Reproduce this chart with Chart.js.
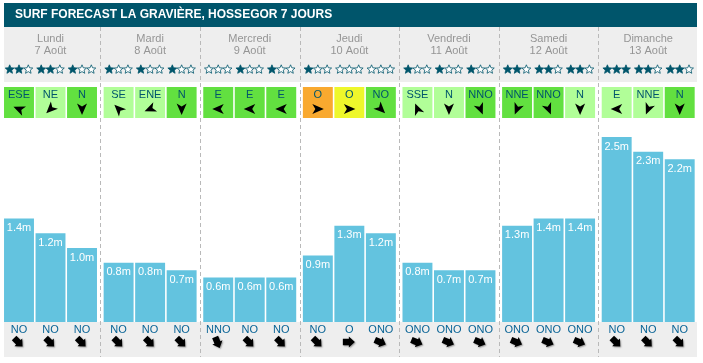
<!DOCTYPE html>
<html>
<head>
<meta charset="utf-8">
<title>Surf forecast</title>
<script src="https://cdn.jsdelivr.net/npm/chart.js@4"></script>
<style>
    html, body { margin: 0; padding: 0; background: #fff; }
    canvas { display: block; }
</style>
</head>
<body>
<canvas id="surfChart" width="703" height="363"></canvas>
<script>
// Data
const title = 'SURF FORECAST LA GRAVIÈRE, HOSSEGOR 7 JOURS';
const days = ['Lundi', 'Mardi', 'Mercredi', 'Jeudi', 'Vendredi', 'Samedi', 'Dimanche'];
const dates = ['7 Août', '8 Août', '9 Août', '10 Août', '11 Août', '12 Août', '13 Août'];

// one column per time of day, one row per day
const waveMorning = [1.4, 0.8, 0.6, 0.9, 0.8, 1.3, 2.5];
const waveNoon = [1.2, 0.8, 0.6, 1.3, 0.7, 1.4, 2.3];
const waveEvening = [1.0, 0.7, 0.6, 1.2, 0.7, 1.4, 2.2];

const stars = [[2, 2, 1], [1, 1, 1], [0, 1, 1], [1, 0, 0], [1, 1, 1], [2, 2, 2], [3, 2, 2]];

const windDirs = [
    ['ESE', 'NE', 'N'], ['SE', 'ENE', 'N'], ['E', 'E', 'E'], ['O', 'O', 'NO'],
    ['SSE', 'N', 'NNO'], ['NNE', 'NNO', 'N'], ['E', 'NNE', 'N']
];
const windKinds = [
    ['offshore', 'light', 'offshore'], ['light', 'light', 'offshore'], ['offshore', 'offshore', 'offshore'],
    ['onshoreStrong', 'onshore', 'offshore'], ['light', 'light', 'offshore'],
    ['offshore', 'offshore', 'light'], ['light', 'light', 'offshore']
];
const swellDirs = [
    ['NO', 'NO', 'NO'], ['NO', 'NO', 'NO'], ['NNO', 'NO', 'NO'], ['NO', 'O', 'ONO'],
    ['ONO', 'ONO', 'ONO'], ['ONO', 'ONO', 'ONO'], ['NO', 'NO', 'NO']
];

// Styles
const TEAL = '#00556b';
const GREY_BG = '#eeeeee';
const BAR_BLUE = '#63c3df';
const FONT = '"Liberation Sans", Arial, sans-serif';
const windColors = { offshore: '#62e040', light: '#b1fe98', onshore: '#eef72b', onshoreStrong: '#f9a92f' };
const compass = ['N', 'NNE', 'NE', 'ENE', 'E', 'ESE', 'SE', 'SSE', 'S', 'SSO', 'SO', 'OSO', 'O', 'ONO', 'NO', 'NNO'];

// Direction the arrow tip points to: the wind comes from the named side
function arrowAngle(dir) {
    return (compass.indexOf(dir) * 22.5 + 180) * Math.PI / 180;
}

function drawPolygon(ctx, x, y, angle, points, color, blur) {
    ctx.save();
    ctx.translate(x, y);
    ctx.rotate(angle);
    ctx.fillStyle = color;
    if (blur) {
        ctx.shadowColor = 'rgba(0, 0, 0, 0.35)';
        ctx.shadowBlur = blur;
        ctx.shadowOffsetX = 1;
        ctx.shadowOffsetY = 1;
    }
    ctx.beginPath();
    points.forEach((p, i) => (i === 0 ? ctx.moveTo(p[0], p[1]) : ctx.lineTo(p[0], p[1])));
    ctx.closePath();
    ctx.fill();
    ctx.restore();
}

const NAV_ARROW = [[0, -6], [5, 5.5], [0, 2.5], [-5, 5.5]];
const BLOCK_ARROW = [[0, -6.5], [5.5, -0.5], [3.2, -0.5], [3.2, 5.5], [-3.2, 5.5], [-3.2, -0.5], [-5.5, -0.5]];

function drawStar(ctx, cx, cy, r, filled) {
    ctx.beginPath();
    for (let i = 0; i < 10; i++) {
        const rad = i % 2 === 0 ? r : r * 0.45;
        const a = -Math.PI / 2 + i * Math.PI / 5;
        const px = cx + rad * Math.cos(a);
        const py = cy + rad * Math.sin(a);
        if (i === 0) ctx.moveTo(px, py); else ctx.lineTo(px, py);
    }
    ctx.closePath();
    ctx.fillStyle = filled ? TEAL : '#ffffff';
    ctx.fill();
    ctx.lineWidth = 0.8;
    ctx.strokeStyle = TEAL;
    ctx.stroke();
}

function text(ctx, str, x, y, font, color, align) {
    ctx.font = font;
    ctx.fillStyle = color;
    ctx.textAlign = align || 'center';
    ctx.textBaseline = 'middle';
    ctx.fillText(str, x, y);
}

// Panels behind the bars: title, header, footer, day separators
const backgroundPlugin = {
    id: 'surfBackground',
    beforeDatasetsDraw(chart) {
        const ctx = chart.ctx;
        const xScale = chart.scales.x;
        const left = 4, right = 697;

        ctx.save();
        ctx.fillStyle = TEAL;
        ctx.fillRect(left, 3, right - left, 24);
        ctx.fillStyle = GREY_BG;
        ctx.fillRect(left, 27, right - left, 55);
        ctx.fillRect(left, 322, right - left, 35);
        text(ctx, title, 15, 15, 'bold 12px ' + FONT, '#ffffff', 'left');

        // day separators
        ctx.strokeStyle = '#b9b9b9';
        ctx.lineWidth = 1;
        ctx.setLineDash([4, 3]);
        days.forEach((d, i) => {
            if (i === 0) return;
            const x = Math.round((xScale.getPixelForValue(i - 1) + xScale.getPixelForValue(i)) / 2) + 0.5;
            ctx.beginPath();
            ctx.moveTo(x, 27);
            ctx.lineTo(x, 357);
            ctx.stroke();
        });
        ctx.setLineDash([]);

        days.forEach((d, i) => {
            const x = xScale.getPixelForValue(i);
            text(ctx, d, x, 38.5, '11px ' + FONT, '#959595');
            text(ctx, dates[i], x, 50.5, '11px ' + FONT, '#959595');
        });
        ctx.restore();
    },
    // Everything tied to a single bar
    afterDatasetsDraw(chart) {
        const ctx = chart.ctx;
        ctx.save();
        chart.data.datasets.forEach((ds, slot) => {
            const meta = chart.getDatasetMeta(slot);
            meta.data.forEach((bar, i) => {
                const barLeft = bar.x - bar.width / 2;

                // rating stars
                for (let s = 0; s < 3; s++) {
                    drawStar(ctx, bar.x - 9.3 + s * 9.3, 69.5, 4.7, s < stars[i][slot]);
                }

                // wind cell
                ctx.fillStyle = windColors[windKinds[i][slot]];
                ctx.fillRect(barLeft, 87, bar.width, 31);
                text(ctx, windDirs[i][slot], bar.x, 95, '11px ' + FONT, TEAL);
                drawPolygon(ctx, bar.x, 109, arrowAngle(windDirs[i][slot]), NAV_ARROW, '#000000');

                // height label inside the bar
                text(ctx, ds.data[i].toFixed(1) + 'm', bar.x, bar.y + 9.5, '11px ' + FONT, '#ffffff');

                // swell direction under the bar
                text(ctx, swellDirs[i][slot], bar.x, 330, '11px ' + FONT, '#0a6496');
                drawPolygon(ctx, bar.x - 1, 342, arrowAngle(swellDirs[i][slot]), BLOCK_ARROW, '#000000', 1.5);
            });
        });
        ctx.restore();
    }
};

new Chart(document.getElementById('surfChart'), {
    type: 'bar',
    data: {
        labels: days,
        datasets: [
            { label: 'Matin', data: waveMorning, backgroundColor: BAR_BLUE },
            { label: 'Midi', data: waveNoon, backgroundColor: BAR_BLUE },
            { label: 'Soir', data: waveEvening, backgroundColor: BAR_BLUE }
        ]
    },
    options: {
        responsive: false,
        animation: false,
        categoryPercentage: 0.949,
        barPercentage: 0.95,
        layout: { padding: { left: 0.7, right: 5, top: 100, bottom: 41 } },
        plugins: { legend: { display: false }, tooltip: { enabled: false } },
        scales: {
            x: { display: false },
            y: { display: false, min: 0, max: 3 }
        }
    },
    plugins: [backgroundPlugin]
});
</script>
</body>
</html>
